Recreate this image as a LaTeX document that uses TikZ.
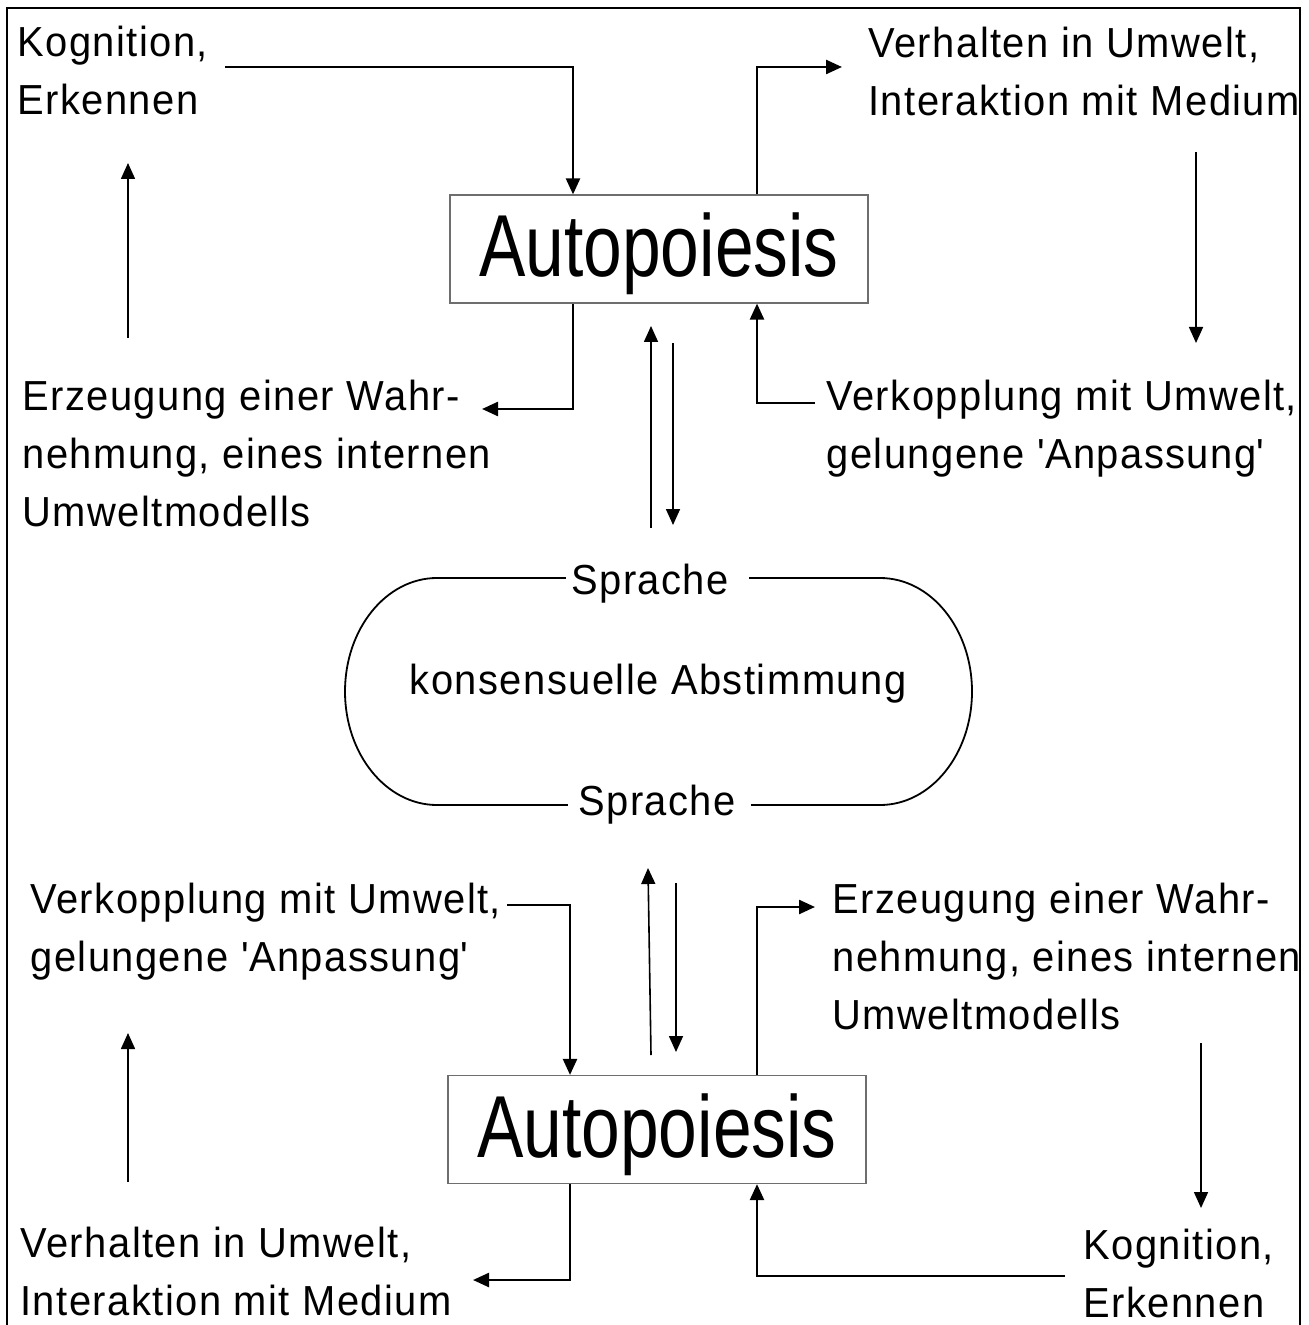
\documentclass[tikz,border=0pt]{standalone}
\usepackage{fontspec}
\setmainfont{Liberation Sans}
\newfontfamily\lblfont{Liberation Sans}[FakeStretch=0.95,LetterSpace=3.5]
\newfontfamily\corefont{Liberation Sans}[FakeStretch=0.79]
\usetikzlibrary{arrows.meta,positioning}
\definecolor{boxgray}{HTML}{6E6E6E}
\newcommand{\qs}{\textquotesingle}

\begin{document}
\begin{tikzpicture}[
		x=0.5pt,y=-0.5pt,
		lbl/.style={anchor=north west,inner sep=0pt,align=left,
			font=\lblfont\fontsize{21}{29}\selectfont},
		mid/.style={anchor=base,inner sep=0pt,font=\lblfont\fontsize{21}{29}\selectfont},
		core/.style={draw=boxgray,line width=0.6pt,minimum width=209pt,minimum height=54pt,
			inner sep=0pt,text depth=4pt,font=\corefont\fontsize{44}{50}\selectfont},
		flow/.style={-{Triangle[length=8pt,width=7pt]},line width=1.2pt},
		link/.style={-{Triangle[length=8pt,width=7pt]},line width=0.8pt},
		ring/.style={line width=0.9pt},
		]
		\useasboundingbox (0,0) rectangle (1308,1325);
		\draw[line width=1.3pt] (7,8) rectangle (1300,1345);
		
		% the two systems
		\node[core] (apT) at (659,249) {Autopoiesis};
		\node[core] (apB) at (657,1129.5) {Autopoiesis};
		
		% upper system
		\node[lbl] (kogT) at (17,26) {Kognition,\\Erkennen};
		\node[lbl] (verhT) at (868,27) {Verhalten in Umwelt,\\Interaktion mit Medium};
		\node[lbl] (erzT) at (22,380) {Erzeugung einer Wahr-\\nehmung, eines internen\\Umweltmodells};
		\node[lbl] (verkT) at (826,380) {Verkopplung mit Umwelt,\\gelungene \qs Anpassung\qs};
		
		\coordinate (a0) at (225,67);
		\coordinate (a1) at (573,67);
		\coordinate (b1) at (757,67);
		\coordinate (b2) at (842,67);
		\coordinate (d0) at (815,403);
		\coordinate (e1) at (482,409);
		\draw[flow] (a0) -- (a1) -- (apT.north -| a1);
		\draw[flow] (apT.north -| b1) -- (b1) -- (b2);
		\draw[flow] (d0) -| (apT.south -| b1);
		\draw[flow] (apT.south -| a1) |- (e1);
		\draw[link] (1196,152) -- (1196,343);
		\draw[link] (128,338) -- (128,163);
		\draw[link] (651,528) -- (651,326);
		\draw[link] (673,343) -- (673,525);
		
		% language loop
		\node[mid] (sprT) at (650,594) {Sprache};
		\node[mid] (kons) at (658,694) {konsensuelle Abstimmung};
		\node[mid] (sprB) at (657,815) {Sprache};
		\coordinate (tl) at (437,578);
		\coordinate (tr) at (880,578);
		\coordinate (bl) at (437,805);
		\coordinate (br) at (880,805);
		\draw[ring] ([xshift=-2.5pt]sprT.west |- tl) -- (tl)
			arc[start angle=90,end angle=270,x radius=46pt,y radius=56.75pt]
			-- ([xshift=-5pt]sprB.west |- bl);
		\draw[ring] ([xshift=10pt]sprT.east |- tr) -- (tr)
			arc[start angle=90,end angle=-90,x radius=46pt,y radius=56.75pt]
			-- ([xshift=7.5pt]sprB.east |- br);
		
		% lower system
		\node[lbl] (verkB) at (30,883) {Verkopplung mit Umwelt,\\gelungene \qs Anpassung\qs};
		\node[lbl] (erzB) at (832,883) {Erzeugung einer Wahr-\\nehmung, eines internen\\Umweltmodells};
		\node[lbl] (verhB) at (20,1227) {Verhalten in Umwelt,\\Interaktion mit Medium};
		\node[lbl] (kogB) at (1083,1229) {Kognition,\\Erkennen};
		
		\coordinate (h0) at (507,905);
		\coordinate (h1) at (570,905);
		\coordinate (i1) at (757,907);
		\coordinate (i2) at (815,907);
		\coordinate (k0) at (1065,1276);
		\coordinate (l1) at (473,1280);
		\draw[flow] (h0) -- (h1) -- (apB.north -| h1);
		\draw[flow] (apB.north -| i1) -- (i1) -- (i2);
		\draw[flow] (k0) -| (apB.south -| i1);
		\draw[flow] (apB.south -| h1) |- (l1);
		\draw[link] (1201,1043) -- (1201,1208);
		\draw[link] (128,1182) -- (128,1033);
		\draw[link] (651,1055) -- (648,868);
		\draw[link] (676,883) -- (676,1052);
\end{tikzpicture}
\end{document}
